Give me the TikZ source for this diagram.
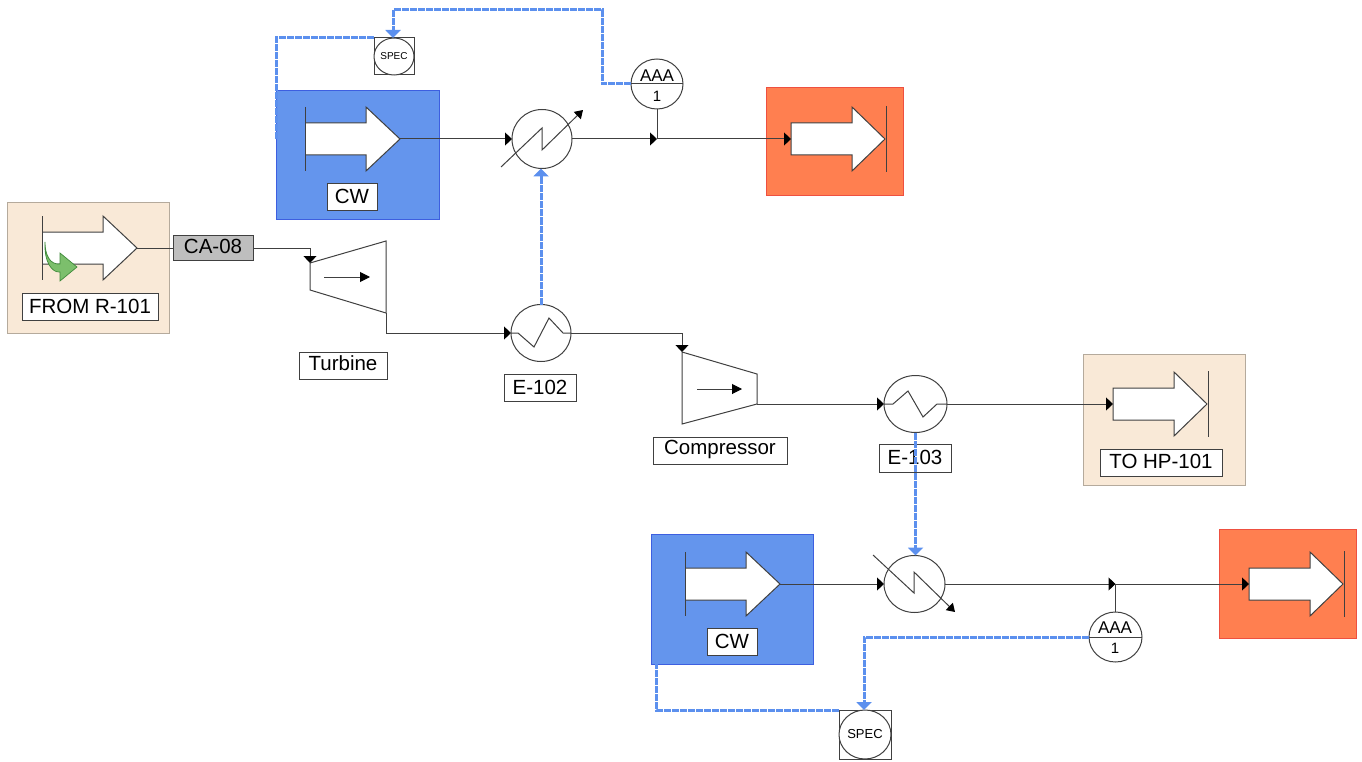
\documentclass[tikz,border=0pt]{standalone}
\usepackage{fontspec}
\setmainfont{Liberation Sans}
\usetikzlibrary{arrows.meta,shapes.geometric,calc}
\definecolor{cwblue}{HTML}{6495ED}
\definecolor{cwedge}{HTML}{3D5FE0}
\definecolor{sigblue}{HTML}{5C90EE}
\definecolor{hotor}{HTML}{FF7F50}
\definecolor{hotedge}{HTML}{EE5040}
\definecolor{beigef}{HTML}{F9E9D7}
\definecolor{beigee}{HTML}{B5AA9C}
\definecolor{linec}{HTML}{404040}
\definecolor{leaf}{HTML}{7CBF6C}
\definecolor{leafedge}{HTML}{3F8A3A}
\tikzset{
  panel/.style={draw=#1,line width=1pt,anchor=center,inner sep=0,outer sep=0},
  flow/.style={draw=linec,line width=1pt},
  flowin/.style={flow,-{Triangle[length=7pt,width=13pt,color=black]}},
  signal/.style={draw=sigblue,line width=3pt,dash pattern=on 7pt off 1pt},
  sigin/.style={signal,-{Triangle[length=8pt,width=15pt,color=sigblue]}},
  tag/.style={draw=linec,fill=white,line width=1pt,inner sep=0,outer sep=0,font=\fontsize{20.5}{22}\selectfont,text height=15pt,text depth=0pt,align=center},
  vessel/.style={ellipse,draw=linec,fill=white,line width=1pt,inner sep=0,outer sep=0},
  outline/.style={draw=linec,line width=1pt,line join=miter},
  thin line/.style={draw=linec,line width=1pt},
  smallhead/.style={-{Triangle[length=10pt,width=10pt,color=black]}},
}
% block arrow with a bar at its tail
\newcommand{\srcarrow}[3]{%
  \begin{scope}[shift={(#2,#3)}]
    \fill[white] (0,-16)--(61,-16)--(61,-32)--(95,0)--(61,32)--(61,16)--(0,16)--cycle;
    \draw[outline] (0,-16)--(61,-16)--(61,-32)--(95,0)--(61,32)--(61,16)--(0,16);
    \draw[outline] (0,-32)--(0,32);
    \coordinate (#1tip) at (95,0);
  \end{scope}}
% block arrow with a bar at its tip
\newcommand{\snkarrow}[3]{%
  \begin{scope}[shift={(#2,#3)}]
    \fill[white] (0,-16)--(61,-16)--(61,-32)--(94,0)--(61,32)--(61,16)--(0,16)--cycle;
    \draw[outline] (0,-16)--(61,-16)--(61,-32)--(94,0)--(61,32)--(61,16)--(0,16)--cycle;
    \draw[outline] (95,-33)--(95,33);
    \coordinate (#1tail) at (0,0);
  \end{scope}}
\begin{document}
\begin{tikzpicture}[x=1pt,y=-1pt]
\useasboundingbox (0,0) rectangle (1362,762);
% panels
\node[panel=beigee,fill=beigef,minimum width=162pt,minimum height=130pt] (frompanel) at (88,268) {};
\node[panel=cwedge,fill=cwblue,minimum width=163pt,minimum height=129pt] (cw1) at (357.5,155) {};
\node[panel=cwedge,fill=cwblue,minimum width=162pt,minimum height=130pt] (cw2) at (732,599) {};
\node[panel=hotedge,fill=hotor,minimum width=137pt,minimum height=108pt] (hot1) at (834.5,141.5) {};
\node[panel=hotedge,fill=hotor,minimum width=137pt,minimum height=109pt] (hot2) at (1287.5,583.5) {};
\node[panel=beigee,fill=beigef,minimum width=162pt,minimum height=131pt] (topanel) at (1164,419.5) {};
% block arrows
\srcarrow{src}{42}{248}
\srcarrow{cwa}{305}{139}
\srcarrow{cwb}{685}{584}
\snkarrow{hota}{791}{139}
\snkarrow{hotb}{1249}{584}
\snkarrow{hp}{1113}{404}
% green curved arrow
\draw[draw=leafedge,fill=leaf,line width=0.7pt]
  (45,242) .. controls (45,255) and (50,265) .. (60,264) -- (60,253) -- (77,267) -- (60,281) -- (60,272)
  .. controls (52,273) and (44,262) .. (45,242) -- cycle;
% tags
\node[tag,minimum width=136pt,minimum height=27pt,text depth=1pt] (fromtag) at (90,306.5) {FROM R-101};
\node[tag,fill={rgb,255:red,190;green,190;blue,190},minimum width=80pt,minimum height=25pt,text depth=5pt] (ca08) at (213,248) {CA-08};
\node[tag,minimum width=88pt,minimum height=27pt,text depth=5pt] (turbtag) at (343,365.5) {Turbine};
\node[tag,minimum width=50pt,minimum height=27pt,text depth=3pt] (cwtag1) at (352,197.5) {CW};
\node[tag,minimum width=50pt,minimum height=27pt,text depth=2pt] (cwtag2) at (732,641.5) {CW};
\node[tag,minimum width=72pt,minimum height=27pt,text depth=2pt] (e102tag) at (540,387.5) {E-102};
\node[tag,minimum width=134pt,minimum height=27pt,text depth=7pt] (comptag) at (720,450.5) {Compressor};
\node[tag,minimum width=72pt,minimum height=28pt,text depth=2pt] (e103tag) at (915,458) {E-103};
\node[tag,minimum width=122pt,minimum height=27pt,text depth=3pt] (hptag) at (1161,462.5) {TO HP-101};
% turbine and compressor
\draw[outline,fill=white] (310,263) -- (386,241) -- (386,313) -- (310,290) -- cycle;
\draw[outline,fill=white] (682,352) -- (757,374) -- (757,404) -- (682,424) -- cycle;
\coordinate (turbin) at (310,263);
\coordinate (turbout) at (386,313);
\coordinate (compin) at (682,352);
\coordinate (compout) at (757,404);
\coordinate (ta) at (324,277);
\coordinate (tb) at (370,277);
\coordinate (ca) at (697,389);
\coordinate (cb) at (742,389);
\draw[thin line,smallhead] (ta) -- (tb);
\draw[thin line,smallhead] (ca) -- (cb);
% exchangers
\node[vessel,minimum width=60pt,minimum height=59pt] (h1) at (542,139) {};
\node[vessel,minimum width=60pt,minimum height=57pt] (e102) at (541,333) {};
\node[vessel,minimum width=63pt,minimum height=57pt] (e103) at (915.5,404) {};
\node[vessel,minimum width=61pt,minimum height=57pt] (h2) at (914.5,584) {};
\draw[thin line] (e102.west) -- (518,333) -- (534,347) -- (549,318) -- (563,333) -- (e102.east);
\draw[thin line] (e103.west) -- (893,404) -- (908,391) -- (923,417) -- (937,404) -- (e103.east);
\draw[thin line,-{Triangle[length=8pt,width=10pt,color=black]}] (501,167) -- (542,128) -- (542,150) -- (583,110);
\draw[thin line,-{Triangle[length=8pt,width=10pt,color=black]}] (873,555) -- (914,593) -- (914,572) -- (955,612);
% instruments
\node[vessel,minimum width=52pt,minimum height=50pt] (aaa1) at (657,84) {};
\node[vessel,minimum width=53pt,minimum height=50pt] (aaa2) at (1115.5,637) {};
\draw[thin line] (aaa1.west) -- (aaa1.east);
\draw[thin line] (aaa2.west) -- (aaa2.east);
\node[font=\fontsize{17}{18}\selectfont,inner sep=0] (aaa1t) at (657,76) {AAA};
\node[font=\fontsize{15}{16}\selectfont,inner sep=0] (aaa1n) at (657,96) {1};
\node[font=\fontsize{17}{18}\selectfont,inner sep=0] (aaa2t) at (1115,628) {AAA};
\node[font=\fontsize{15}{16}\selectfont,inner sep=0] (aaa2n) at (1115,648) {1};
\node[draw=linec,fill=white,line width=1pt,minimum width=40pt,minimum height=37pt,inner sep=0,outer sep=0] (spec1box) at (394,56.5) {};
\node[vessel,minimum width=40pt,minimum height=37pt,font=\fontsize{10}{11}\selectfont] (spec1) at (394,56.5) {SPEC};
\node[draw=linec,fill=white,line width=1pt,minimum width=52pt,minimum height=49pt,inner sep=0,outer sep=0] (spec2box) at (865,734.5) {};
\node[vessel,minimum width=52pt,minimum height=49pt,font=\fontsize{13}{14}\selectfont] (spec2) at (865,734.5) {SPEC};
% process connectors
\draw[flow] (srctip) -- (ca08.west);
\draw[flowin] (ca08.east) -| (turbin);
\draw[flowin] (turbout) |- (e102.west);
\draw[flowin] (e102.east) -| (compin);
\draw[flowin] (compout) -- (e103.west);
\draw[flowin] (e103.east) -- (hptail);
\draw[flowin] (cwatip) -- (h1.west);
\draw[flowin] (cwbtip) -- (h2.west);
\coordinate (j1) at (657,139);
\coordinate (j2) at (1115.5,584);
\draw[flowin] (h1.east) -- (j1);
\draw[flowin] (j1) -- (hotatail);
\draw[flow] (aaa1.south) -- (j1);
\draw[flowin] (h2.east) -- (j2);
\draw[flowin] (j2) -- (hotbtail);
\draw[flow] (aaa2.north) -- (j2);
% signal connectors
\coordinate (c1a) at (602,84);
\coordinate (c1b) at (602,10);
\coordinate (c1c) at (393,10);
\coordinate (c2a) at (864,637);
\coordinate (l1) at (276,139);
\coordinate (l2) at (656,664);
\draw[sigin] (aaa1.west) -- (c1a) -- (c1b) -- (c1c) -- (spec1box.north -| c1c);
\draw[signal] (spec1box.north west) -| (l1);
\draw[sigin] (aaa2.west) -- (c2a) -- (spec2box.north -| c2a);
\draw[signal] (spec2box.north west) -| (l2);
\draw[sigin] (e102.north) -- (h1.south -| e102.north);
\draw[sigin] (e103.south) -- (h2.north -| e103.south);
\end{tikzpicture}
\end{document}
